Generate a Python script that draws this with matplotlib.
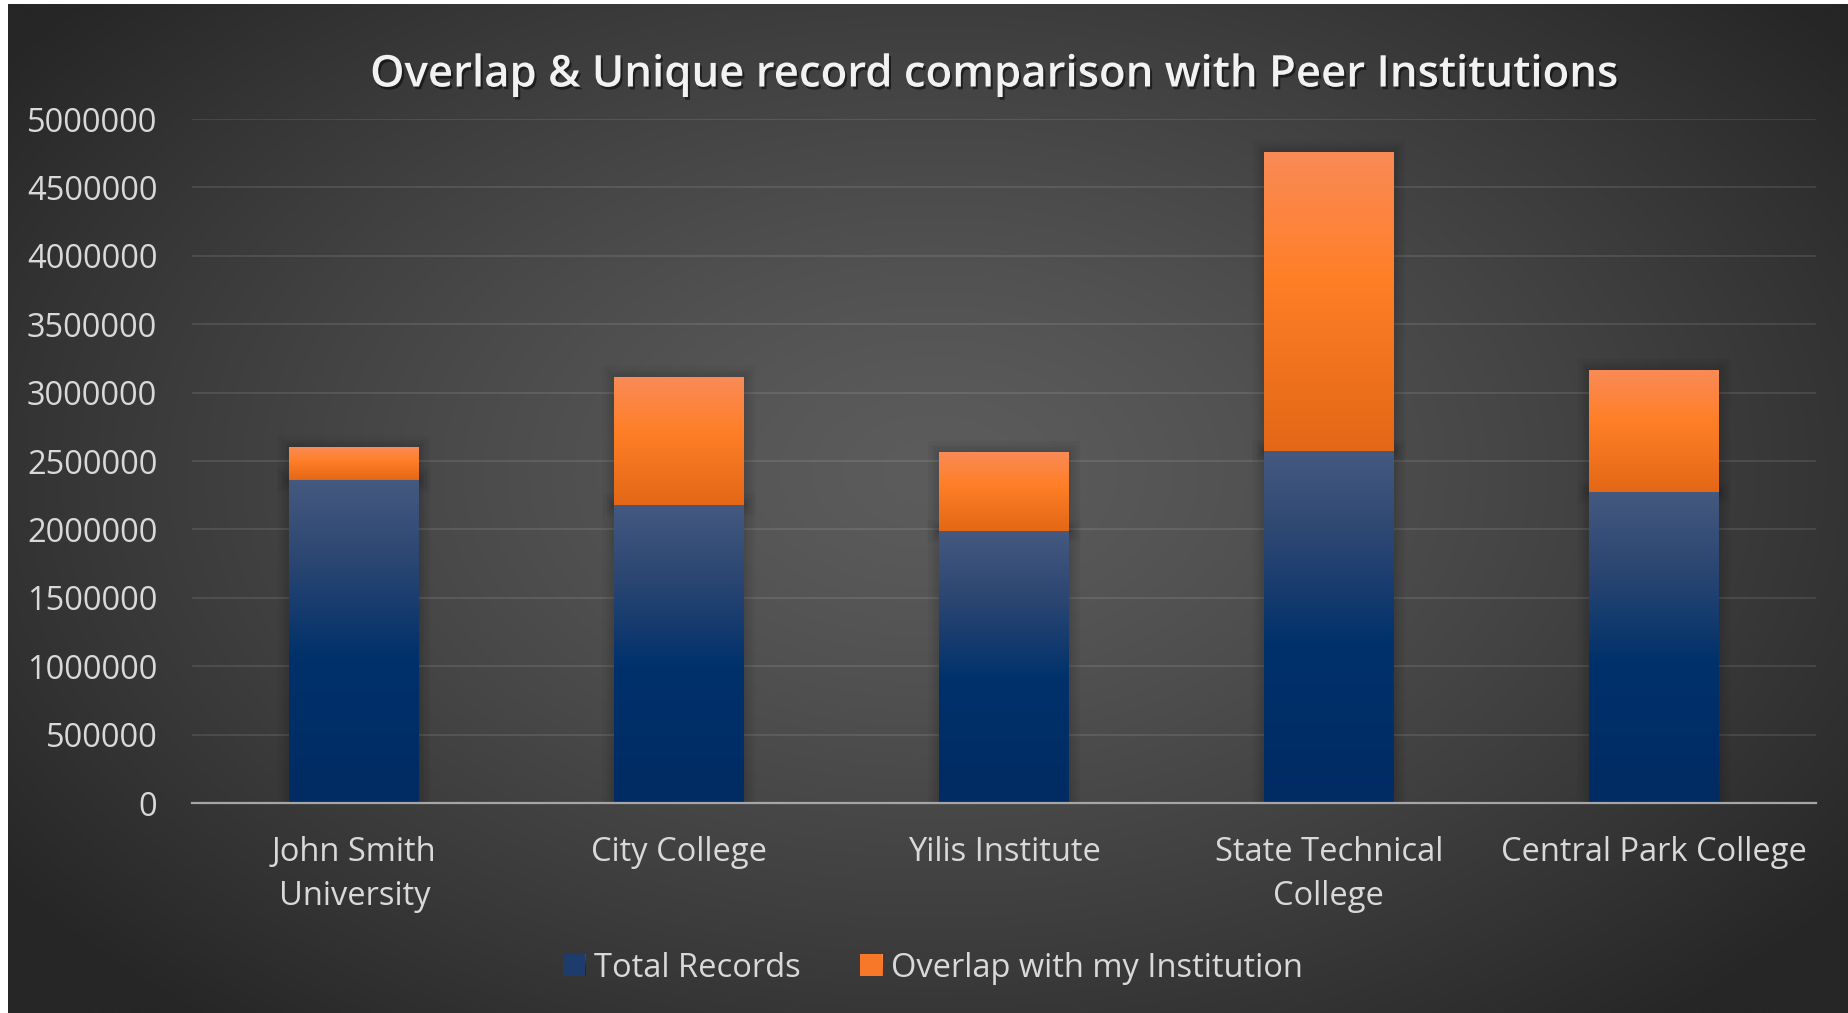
import matplotlib
matplotlib.use('Agg')
import matplotlib.pyplot as plt
import matplotlib.patheffects as pe
from matplotlib.colors import LinearSegmentedColormap
from matplotlib.patches import Patch
import numpy as np

# Data
institutions = ['John Smith\nUniversity', 'City College', 'Yilis Institute',
                'State Technical\nCollege', 'Central Park College']
total_records = [2361000, 2179000, 1985000, 2573000, 2277000]
overlap = [241000, 935000, 581000, 2186000, 885000]
y_ticks = [0, 500000, 1000000, 1500000, 2000000, 2500000, 3000000, 3500000, 4000000, 4500000, 5000000]

title = 'Overlap & Unique record comparison with Peer Institutions'
series_names = ['Total Records', 'Overlap with my Institution']

W, H, DPI = 1849, 1013, 100
FONT = 'Open Sans'
TEXT_COLOR = '#d9d9d9'

blue_cmap = LinearSegmentedColormap.from_list(
    'blue_grad', [(0.0, '#45597f'), (0.25, '#2b4672'), (0.55, '#00316b'), (1.0, '#002b63')])
orange_cmap = LinearSegmentedColormap.from_list(
    'orange_grad', [(0.0, '#f98b57'), (0.42, '#ff7f27'), (1.0, '#e36716')])


def gradient_fill(ax, patch, cmap, zorder=2.5):
    '''Paint a top-to-bottom gradient inside a bar patch'''
    x0, y0 = patch.get_x(), patch.get_y()
    w, h = patch.get_width(), patch.get_height()
    grad = np.linspace(0, 1, 256).reshape(-1, 1)
    im = ax.imshow(grad, cmap=cmap, aspect='auto', extent=(x0, x0 + w, y0, y0 + h),
                   origin='upper', zorder=zorder, interpolation='bilinear')
    im.set_clip_path(patch)


fig = plt.figure(figsize=(W / DPI, H / DPI), dpi=DPI, facecolor='white')

# Radial dark background (thin white margin left and top as in the reference)
bg = fig.add_axes([8 / W, 0, 1 - 8 / W, 1 - 4 / H])
bg.set_axis_off()
yy, xx = np.mgrid[0:H, 0:W]
r = np.sqrt(((xx - 930) / 1150.0) ** 2 + ((yy - 470) / 720.0) ** 2)
r = np.clip(r, 0, 1)
shade = (92 - 54 * r ** 1.3) / 255.0
bg.imshow(np.dstack([shade, shade, shade]), aspect='auto', extent=(0, 1, 0, 1))
bg.set_xlim(0, 1)
bg.set_ylim(0, 1)

ax = fig.add_axes([192 / W, 1 - 803 / H, (1816 - 192) / W, (803 - 119) / H])
ax.patch.set_alpha(0)

x = np.arange(len(institutions))
shadow = [pe.Stroke(linewidth=lw, foreground='black', alpha=0.035) for lw in (16, 11, 7, 3)] + [pe.Normal()]

bars_total = ax.bar(x, total_records, width=0.4, color='#002f6a', zorder=2)
bars_overlap = ax.bar(x, overlap, width=0.4, bottom=total_records, color='#ff7f27', zorder=2)
for b in bars_total:
    b.set_path_effects(shadow)
    gradient_fill(ax, b, blue_cmap)
for b in bars_overlap:
    b.set_path_effects(shadow)
    gradient_fill(ax, b, orange_cmap)

ax.set_xlim(-0.5, len(institutions) - 0.5)
ax.set_ylim(0, 5000000)
ax.set_yticks(y_ticks)
ax.set_yticklabels([str(v) for v in y_ticks])
ax.set_xticks(x)
ax.set_xticklabels(institutions, linespacing=1.42)

ax.grid(axis='y', color='white', alpha=0.11, linewidth=1.3)
ax.set_axisbelow(True)
for side in ('top', 'right', 'left'):
    ax.spines[side].set_visible(False)
ax.spines['bottom'].set_color('#a6a6a6')
ax.spines['bottom'].set_linewidth(1.6)
ax.spines['bottom'].set_zorder(3)

ax.tick_params(axis='both', length=0, labelsize=23.5, labelcolor=TEXT_COLOR)
ax.tick_params(axis='y', pad=25)
ax.tick_params(axis='x', pad=24)
for lbl in ax.get_xticklabels() + ax.get_yticklabels():
    lbl.set_fontfamily(FONT)

# Title with a soft drop shadow
t = fig.text(994 / W, 1 - 75 / H, title, ha='center', va='center', fontsize=26,
             fontweight='semibold', color='#f2f2f2', fontfamily=FONT,
             path_effects=[pe.withSimplePatchShadow(offset=(1.5, -2), shadow_rgbFace='black', alpha=0.5)])
fig.canvas.draw()
tw = t.get_window_extent().width
t.set_fontsize(26 * 1248 / tw)

handles = [Patch(facecolor='#1d3c6c'), Patch(facecolor='#f8782a')]
leg = fig.legend(handles, series_names, loc='center', bbox_to_anchor=(933 / W, 1 - 968 / H),
                 ncol=2, frameon=False, handlelength=0.68, handleheight=0.68,
                 handletextpad=0.28, columnspacing=1.8,
                 prop={'family': FONT, 'size': 23.5})
for txt in leg.get_texts():
    txt.set_color(TEXT_COLOR)

# Gradient squares in the legend
fig.canvas.draw()
for p, cmap in zip(leg.get_patches(), (blue_cmap, orange_cmap)):
    bb = p.get_window_extent().transformed(fig.transFigure.inverted())
    hax = fig.add_axes([bb.x0, bb.y0, bb.width, bb.height])
    hax.imshow(np.linspace(0, 1, 64).reshape(-1, 1), cmap=cmap, aspect='auto')
    hax.set_axis_off()

fig.savefig('out.png', dpi=DPI, facecolor=fig.get_facecolor())
